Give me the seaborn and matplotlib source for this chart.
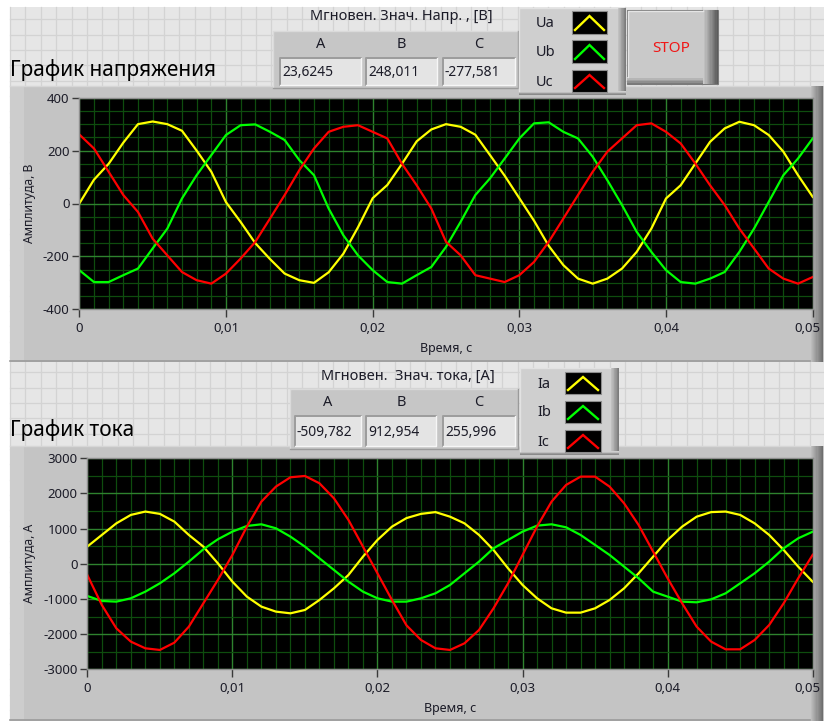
import numpy as np
import pandas as pd
import matplotlib
matplotlib.use("Agg")
import matplotlib.pyplot as plt
import matplotlib.transforms as mtrans
from matplotlib.patches import Rectangle
from matplotlib.ticker import MultipleLocator, FuncFormatter
import seaborn as sns

W, H = 824, 721

# --- data (one sample per millisecond) ---
TIME = np.linspace(0, 0.05, 51)

UA = [0, 90, 150, 230, 300, 310, 300, 275, 200, 120, 5, -70, -150, -210, -265, -290, -300,
      -260, -190, -90, 20, 70, 150, 235, 280, 300, 290, 260, 183, 105, 20, -65, -160, -233,
      -284, -303, -284, -246, -183, -95, 19, 69, 151, 233, 284, 309, 296, 259, 196, 107, 25]
UB = [-252, -297, -297, -271, -246, -170, -95, 19, 107, 183, 259, 296, 299, 271, 240, 164, 107,
      -19, -120, -196, -252, -297, -303, -271, -240, -164, -69, 32, 95, 170, 246, 303, 307, 271,
      246, 177, 88, -6, -107, -183, -252, -297, -303, -284, -259, -183, -95, 6, 107, 170, 246]
UC = [261, 208, 120, 32, -32, -133, -196, -259, -290, -303, -265, -208, -145, -57, 32, 126, 208,
      271, 290, 296, 271, 246, 150, 69, -19, -145, -196, -271, -284, -297, -271, -221, -145, -57,
      32, 120, 196, 246, 296, 303, 271, 227, 151, 69, -6, -95, -170, -246, -284, -303, -278]

IA = [490, 820, 1150, 1390, 1485, 1420, 1200, 820, 488, 14, -507, -934, -1218, -1360, -1408,
      -1313, -1029, -697, -318, 204, 678, 1057, 1300, 1420, 1470, 1340, 1150, 820, 393, -128,
      -602, -981, -1266, -1389, -1389, -1266, -1029, -697, -270, 204, 678, 1057, 1340, 1470,
      1485, 1390, 1150, 820, 393, -81, -510]
IB = [-915, -1057, -1076, -981, -792, -555, -270, 62, 412, 697, 915, 1076, 1123, 1010, 773, 488,
      156, -175, -507, -792, -981, -1076, -1076, -981, -839, -602, -270, 62, 441, 678, 915, 1085,
      1123, 1038, 820, 536, 251, -81, -412, -792, -934, -1076, -1095, -1010, -839, -555, -270,
      62, 441, 725, 913]
IC = [-318, -1170, -1834, -2213, -2403, -2450, -2242, -1787, -1123, -460, 251, 1057, 1768, 2195,
      2460, 2498, 2290, 1863, 1247, 488, -270, -1029, -1750, -2166, -2403, -2450, -2261, -1882,
      -1266, -555, 251, 1057, 1768, 2242, 2479, 2479, 2195, 1720, 1104, 346, -412, -1123, -1787,
      -2213, -2432, -2432, -2166, -1740, -1123, -412, 256]

PHASES_U = ["Ua", "Ub", "Uc"]
PHASES_I = ["Ia", "Ib", "Ic"]
COLORS = ["#FFFF00", "#00FF00", "#FF0000"]
HEADS = ["A", "B", "C"]
U_NOW = ["23,6245", "248,011", "-277,581"]
I_NOW = ["-509,782", "912,954", "255,996"]

FONT = ["Noto Sans", "DejaVu Sans"]
plt.rcParams["font.family"] = FONT
TXT = "#1c1c28"

# painter's order for the panel decorations
_z = [1.0]


def z():
    _z[0] += 0.001
    return _z[0]


def rect(ax, x0, y0, w, h, **kw):
    ax.add_patch(Rectangle((x0, y0), w, h, zorder=z(), **kw))


def line(ax, xs, ys, **kw):
    ax.plot(xs, ys, zorder=z(), **kw)


def gradient_strip(ax, x0, y0, x1, y1, c0, c1, vertical=False, n=12):
    """Fake a shaded bevel with thin rectangles."""
    c0 = np.array(matplotlib.colors.to_rgb(c0))
    c1 = np.array(matplotlib.colors.to_rgb(c1))
    for i in range(n):
        f = i / (n - 1)
        col = c0 * (1 - f) + c1 * f
        if vertical:
            h = (y1 - y0) / n
            rect(ax, x0, y0 + i * h, x1 - x0, h + 0.3, fc=col, ec="none")
        else:
            w = (x1 - x0) / n
            rect(ax, x0 + i * w, y0, w + 0.3, y1 - y0, fc=col, ec="none")


def raised(ax, x0, y0, x1, y1, face="#C8C8C8"):
    rect(ax, x0, y0, x1 - x0, y1 - y0, fc=face, ec="none")
    gradient_strip(ax, x1 - 9, y0, x1, y1, face, "#7C7C7C")
    gradient_strip(ax, x0, y1 - 4, x1, y1, face, "#8A8A8A", vertical=True, n=5)
    line(ax, [x0, x0, x1 - 9], [y1 - 4, y0, y0], color="#E2E2E2", lw=1.0)


def sunken(ax, x0, y0, x1, y1, text):
    rect(ax, x0, y0, x1 - x0, y1 - y0, fc="#E4E4E4", ec="none")
    line(ax, [x0, x0, x1], [y1, y0, y0], color="#9C9C9C", lw=1.4)
    line(ax, [x0, x1, x1], [y1, y1, y0], color="#F6F6F6", lw=1.0)
    ax.text(x0 + 2, (y0 + y1) / 2 + 1, text, fontsize=10, color=TXT, va="center", ha="left",
            zorder=z())


def cluster(ax, x0, y0, x1, y1, label, label_x, label_y, cols, values):
    ax.text(label_x, label_y, label, fontsize=10.5, color=TXT, ha="center", va="center", zorder=z())
    rect(ax, x0, y0, x1 - x0, y1 - y0, fc="#C6C6C6", ec="none")
    line(ax, [x0, x0, x1], [y1, y0, y0], color="#DADADA", lw=1.0)
    line(ax, [x0, x1, x1], [y1, y1, y0], color="#9A9A9A", lw=1.0)
    for (bx0, bx1), head, val in zip(cols, HEADS, values):
        ax.text((bx0 + bx1) / 2, y0 + 13, head, fontsize=10.5, color=TXT, ha="center",
                va="center", zorder=z())
        sunken(ax, bx0, y0 + 27, bx1, y1 - 3, val)


def legend_box(ax, x0, y0, x1, y1, names, sw_x0, sw_x1, rows):
    raised(ax, x0, y0, x1, y1, face="#CFCFCF")
    for name, col, (ry0, ry1) in zip(names, COLORS, rows):
        ax.text(x0 + 17, (ry0 + ry1) / 2 + 1, name, fontsize=10.5, color=TXT, ha="left",
                va="center", zorder=z())
        rect(ax, sw_x0, ry0, sw_x1 - sw_x0, ry1 - ry0, fc="black", ec="#8C8C8C", lw=0.8)
        xm = (sw_x0 + sw_x1) / 2
        line(ax, [sw_x0 + 3, xm, sw_x1 - 3], [ry1 - 4, ry0 + 5, ry1 - 4], color=col, lw=1.7,
             solid_joinstyle="miter")


def style_graph(ax, ylim, ymaj, ymin, ylabel):
    ax.set_facecolor("black")
    ax.set_xlim(0, 0.05)
    ax.set_ylim(*ylim)
    ax.xaxis.set_major_locator(MultipleLocator(0.01))
    ax.xaxis.set_minor_locator(MultipleLocator(0.001))
    ax.yaxis.set_major_locator(MultipleLocator(ymaj))
    ax.yaxis.set_minor_locator(MultipleLocator(ymin))
    ax.xaxis.set_major_formatter(FuncFormatter(
        lambda v, p: "0" if abs(v) < 1e-9 else f"{v:.2f}".replace(".", ",")))
    ax.yaxis.set_major_formatter(FuncFormatter(lambda v, p: f"{v:.0f}"))
    ax.grid(which="minor", color="#0e4c0e", lw=0.9)
    ax.grid(which="major", color="#2e822e", lw=1.0)
    ax.set_axisbelow(True)
    ax.tick_params(which="minor", length=0)
    ax.tick_params(axis="y", which="major", direction="out", length=5, width=1, color="#3a3a3a",
                   labelsize=9.5, labelcolor=TXT, pad=2)
    ax.tick_params(axis="x", which="major", direction="out", length=6, width=1, color="#3a3a3a",
                   labelsize=9.5, labelcolor=TXT, pad=3)
    for s in ax.spines.values():
        s.set_color("#8E8E8E")
        s.set_linewidth(1)
    ax.set_xlabel("Время, с", fontsize=9, color=TXT, labelpad=5)
    ax.set_ylabel(ylabel, fontsize=8.8, color=TXT, labelpad=5)


def nudge_last_xlabel(ax, fig, dx_px):
    # the last time label sits against the panel edge, pull it inside a bit
    fig.canvas.draw()
    shift = mtrans.ScaledTranslation(dx_px / fig.dpi, 0, fig.dpi_scale_trans)
    for tick in ax.xaxis.get_major_ticks():
        if tick.label1.get_text() == "0,05":
            tick.label1.set_transform(tick.label1.get_transform() + shift)


fig = plt.figure(figsize=(W / 100, H / 100), dpi=100)
fig.patch.set_facecolor("white")

bg = fig.add_axes([0, 0, 1, 1])
bg.set_xlim(0, W)
bg.set_ylim(H, 0)
bg.axis("off")
bg.set_zorder(0)

# panel grid
rect(bg, 10, 7, W - 10, H - 7, fc="#E6E6E6", ec="none")
for gx in np.arange(10, W, 15.38):
    line(bg, [gx, gx], [7, H], color="#D3D3D3", lw=0.9)
for gy in np.arange(19.3, H, 15.35):
    line(bg, [10, W], [gy, gy], color="#D3D3D3", lw=0.9)

# graph frames
for fy0, fy1 in [(86, 362), (446, 721)]:
    rect(bg, 10, fy0, W - 10, fy1 - fy0, fc="#C4C4C4", ec="none")
    rect(bg, 10, fy0, 14, fy1 - fy0, fc="#CDCDCD", ec="none")
    gradient_strip(bg, 810, fy0, 823, fy1, "#C4C4C4", "#6E6E6E")
    line(bg, [10, 810], [fy1 - 1, fy1 - 1], color="#9A9A9A", lw=1.2)
    line(bg, [10, 810], [fy0, fy0], color="#D6D6D6", lw=1.0)

# titles
bg.text(10, 70, "График напряжения", fontsize=15, color="black", ha="left", va="center", zorder=z())
bg.text(10, 430, "График тока", fontsize=15, color="black", ha="left", va="center", zorder=z())

# numeric clusters
cluster(bg, 273, 31, 518, 88, "Мгновен. Знач. Напр. , [B]", 401, 16,
        [(280, 361), (366, 437), (443, 515)], U_NOW)
cluster(bg, 290, 389, 518, 449, "Мгновен.  Знач. тока, [A]", 408, 376,
        [(295, 361), (366, 436), (443, 515)], I_NOW)

# plot legends
legend_box(bg, 519, 8, 626, 95, PHASES_U, 572, 607, [(11, 34), (40, 63), (70, 92)])
legend_box(bg, 520, 368, 619, 455, PHASES_I, 565, 601, [(372, 394), (401, 423), (430, 452)])

# STOP button
rect(bg, 627, 10, 91, 74, fc="#C9C9C9", ec="#7A7A7A", lw=0.8)
gradient_strip(bg, 703, 10, 718, 84, "#C9C9C9", "#5C5C5C")
gradient_strip(bg, 627, 77, 703, 84, "#C9C9C9", "#7A7A7A", vertical=True, n=5)
line(bg, [628, 628, 703], [77, 11, 11], color="#E4E4E4", lw=1.0)
bg.text(671, 48, "STOP", fontsize=11, color="#F01818", ha="center", va="center", zorder=z())

# voltage graph
ax_u = fig.add_axes([79.3 / W, 1 - 309.3 / H, (812.7 - 79.3) / W, (309.3 - 97.7) / H])
ax_u.set_zorder(2)
df_u = pd.DataFrame({"t": np.tile(TIME, 3), "value": UA + UB + UC,
                     "phase": np.repeat(PHASES_U, len(TIME))})
sns.lineplot(data=df_u, x="t", y="value", hue="phase", palette=dict(zip(PHASES_U, COLORS)),
             ax=ax_u, legend=False, linewidth=1.6)
style_graph(ax_u, (-400, 400), 200, 50, "Амплитуда, В")

# current graph
ax_i = fig.add_axes([87.3 / W, 1 - 669.3 / H, (812.7 - 87.3) / W, (669.3 - 458.3) / H])
ax_i.set_zorder(2)
df_i = pd.DataFrame({"t": np.tile(TIME, 3), "value": IA + IB + IC,
                     "phase": np.repeat(PHASES_I, len(TIME))})
sns.lineplot(data=df_i, x="t", y="value", hue="phase", palette=dict(zip(PHASES_I, COLORS)),
             ax=ax_i, legend=False, linewidth=1.6)
style_graph(ax_i, (-3000, 3000), 1000, 500, "Амплитуда, А")

nudge_last_xlabel(ax_u, fig, -5)
nudge_last_xlabel(ax_i, fig, -5)

fig.savefig("out.png", dpi=100, facecolor=fig.get_facecolor())
